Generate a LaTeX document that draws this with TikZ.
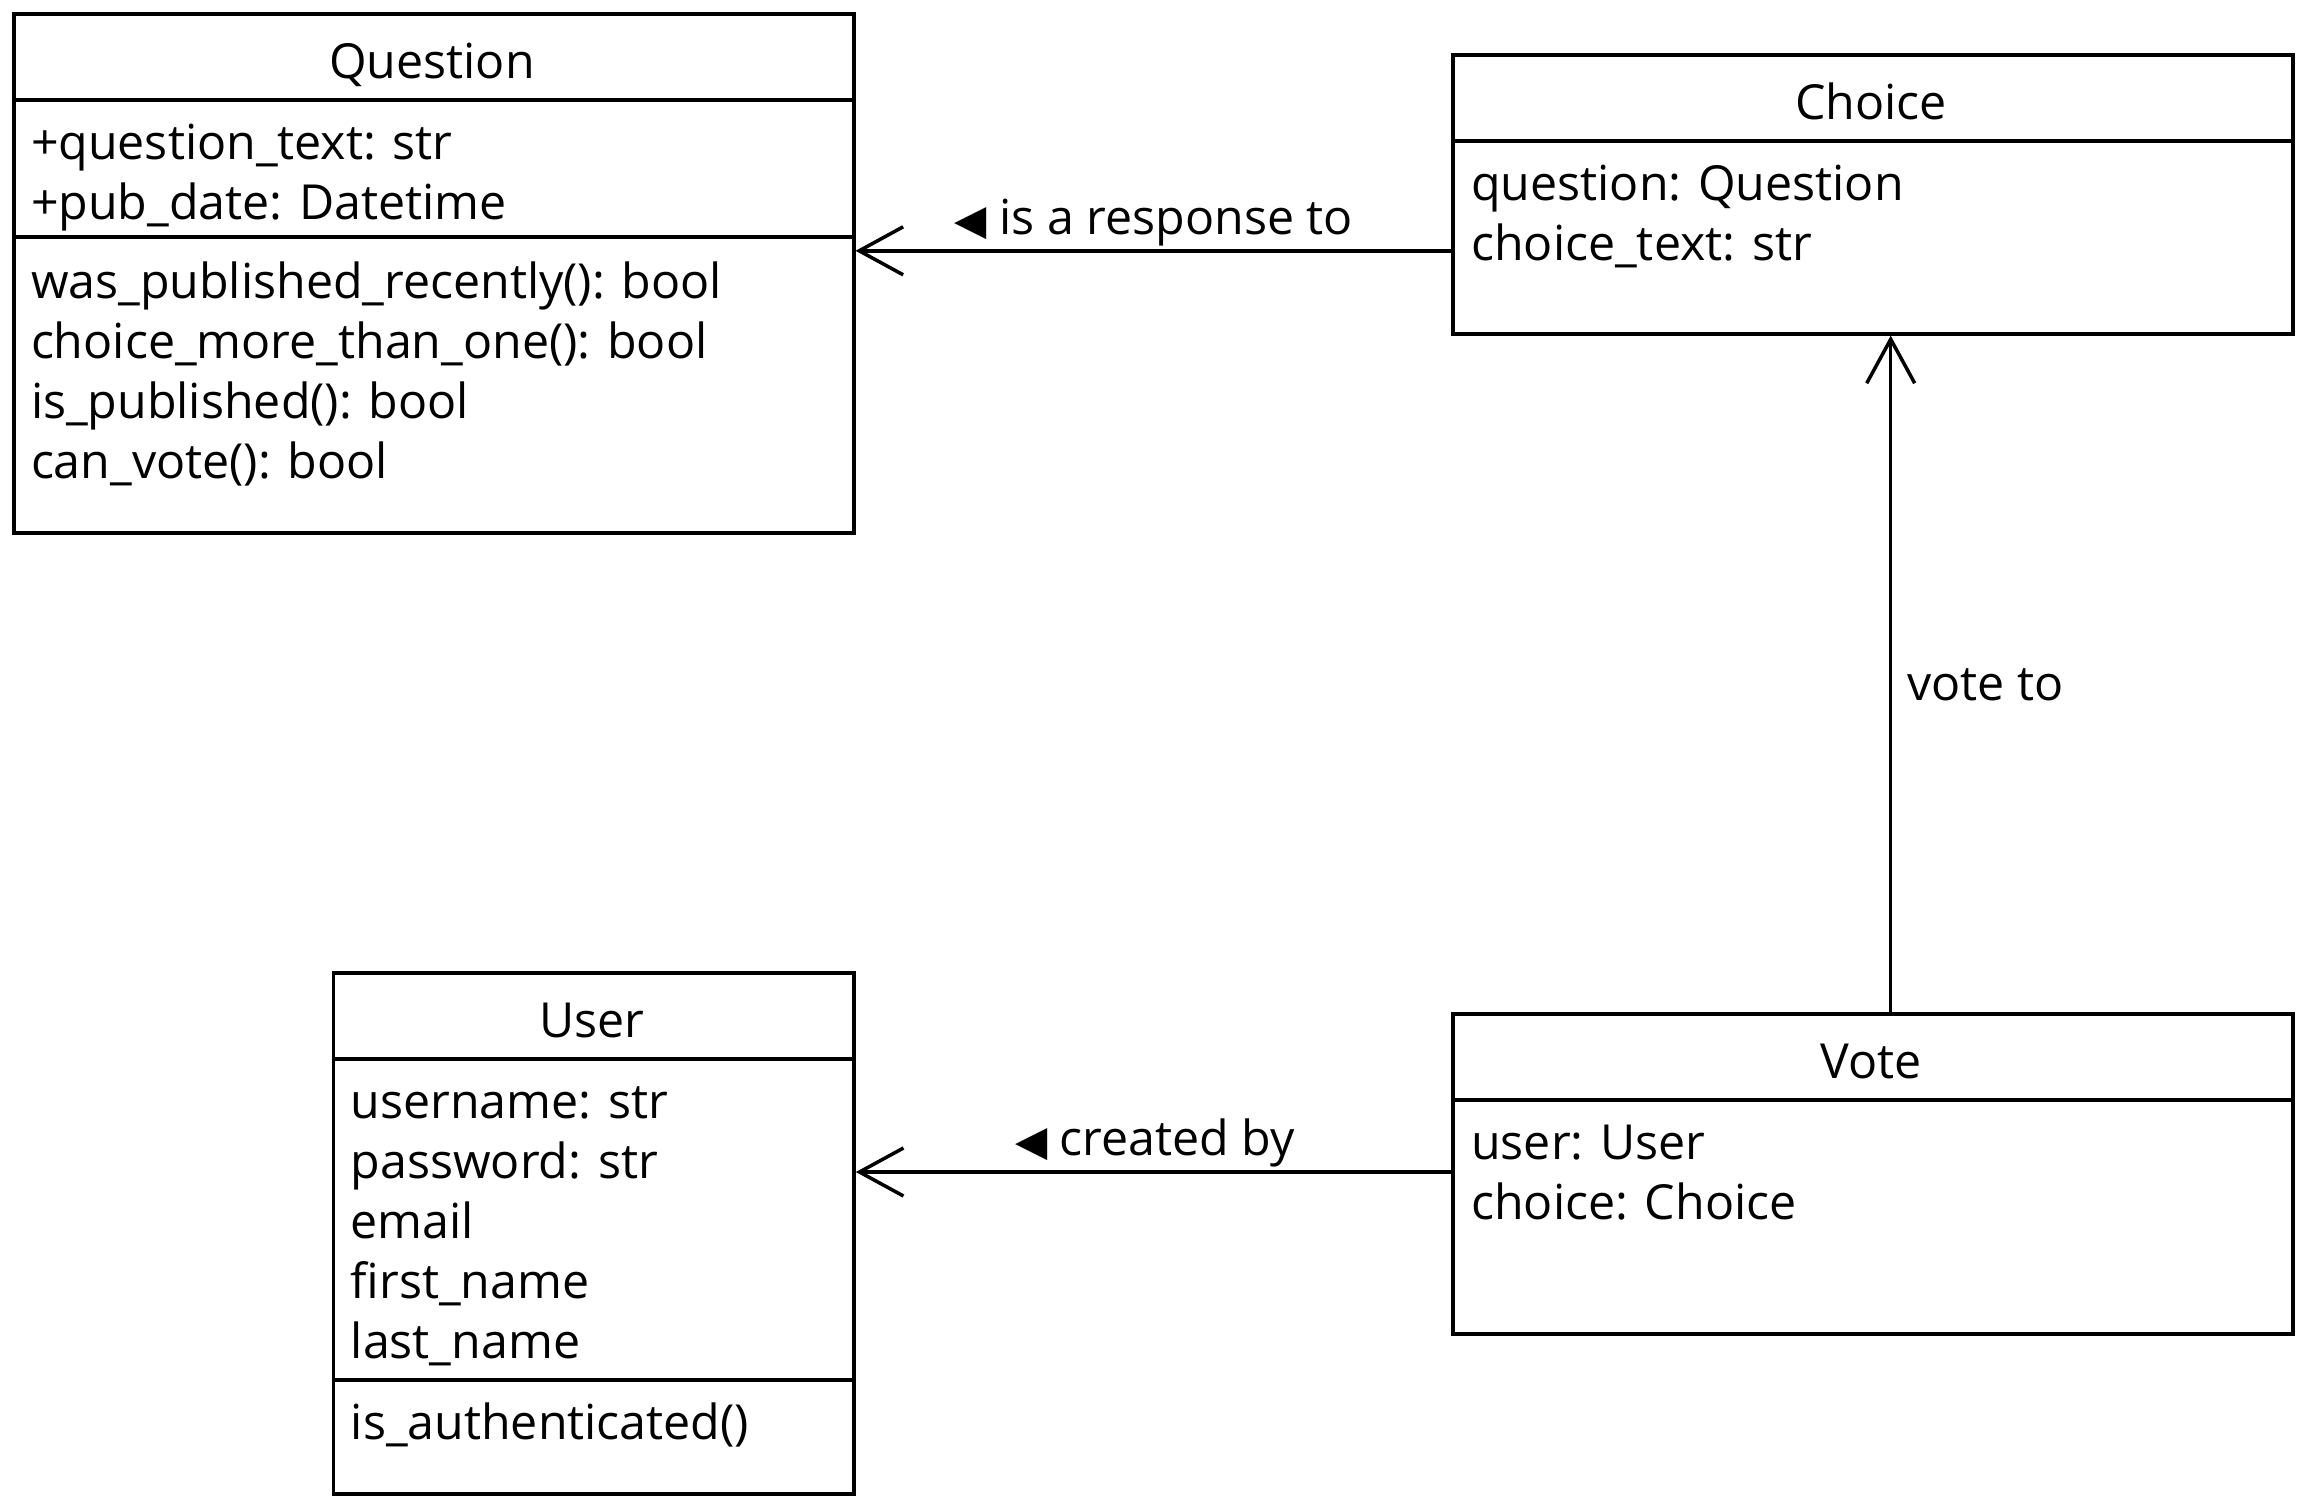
\documentclass[tikz,border=0pt]{standalone}
\usepackage{fontspec}
\setmainfont{Open Sans}
\newfontfamily\symfont{DejaVu Sans}
\usetikzlibrary{arrows.meta}
\begin{document}
\begin{tikzpicture}[x=1pt,y=-1pt,
  cls/.style={draw, line width=3.8pt, rectangle, inner sep=0pt, anchor=north west},
  sepline/.style={line width=3.8pt},
  txt/.style={inner sep=0pt, anchor=base west, font=\fontsize{48.3}{60}\selectfont},
  ttl/.style={inner sep=0pt, anchor=base, font=\fontsize{48.3}{60}\selectfont},
  lbl/.style={inner sep=0pt, anchor=base, font=\fontsize{48.3}{60}\selectfont},
  assoc/.style={line width=3.5pt, -{Straight Barb[length=44pt,width=48pt,line width=3.5pt]}}]
\useasboundingbox (0,0) rectangle (2300,1500);
\newcommand{\tri}{{\symfont\fontsize{42}{42}\selectfont ◀}}

% Question
\node[cls, minimum width=840pt, minimum height=519pt] (q) at (11.7,11.7) {};
\draw[sepline] (q.west |- 0,99.7) -- (q.east |- 0,99.7);
\draw[sepline] (q.west |- 0,237) -- (q.east |- 0,237);
\node[ttl] (qt) at (432,78) {Question};
\node[txt] (qa1) at (30.8,159.5) {+question\_text: str};
\node[txt] (qa2) at (30.8,219.5) {+pub\_date: Datetime};
\node[txt] (qm1) at (30.8,298.5) {was\_published\_recently(): bool};
\node[txt] (qm2) at (30.8,358.5) {choice\_more\_than\_one(): bool};
\node[txt] (qm3) at (30.8,418.5) {is\_published(): bool};
\node[txt] (qm4) at (30.8,478.5) {can\_vote(): bool};

% Choice
\node[cls, minimum width=840pt, minimum height=279pt] (c) at (1451,52.8) {};
\draw[sepline] (c.west |- 0,140.8) -- (c.east |- 0,140.8);
\node[ttl] (ct) at (1871,119) {Choice};
\node[txt] (ca1) at (1471,200.5) {question: Question};
\node[txt] (ca2) at (1471,260.5) {choice\_text: str};

% User
\node[cls, minimum width=520.5pt, minimum height=521pt] (u) at (331.5,971) {};
\draw[sepline] (u.west |- 0,1059) -- (u.east |- 0,1059);
\draw[sepline] (u.west |- 0,1380) -- (u.east |- 0,1380);
\node[ttl] (ut) at (592,1037) {User};
\node[txt] (ua1) at (350.6,1118.5) {username: str};
\node[txt] (ua2) at (350.6,1178.5) {password: str};
\node[txt] (ua3) at (350.6,1238.5) {email};
\node[txt] (ua4) at (350.6,1298.5) {first\_name};
\node[txt] (ua5) at (350.6,1358.5) {last\_name};
\node[txt] (um1) at (350.6,1439.5) {is\_authenticated()};

% Vote
\node[cls, minimum width=840pt, minimum height=320pt] (v) at (1451,1012) {};
\draw[sepline] (v.west |- 0,1100) -- (v.east |- 0,1100);
\node[ttl] (vt) at (1871,1078) {Vote};
\node[txt] (va1) at (1471,1159.5) {user: User};
\node[txt] (va2) at (1471,1219.5) {choice: Choice};

% Connectors
\draw[assoc] (c.west |- 0,250.8) -- (q.east |- 0,250.8);
\draw[assoc] (v.north -| 1890.7,0) -- (c.south -| 1890.7,0);
\draw[assoc] (v.west |- 0,1172) -- (u.east |- 0,1172);

\node[lbl] (l1) at (1154,234) {\tri\ is a response to};
\node[txt] (l2) at (1907,700) {vote to};
\node[lbl] (l3) at (1155,1155) {\tri\ created by};
\end{tikzpicture}
\end{document}
